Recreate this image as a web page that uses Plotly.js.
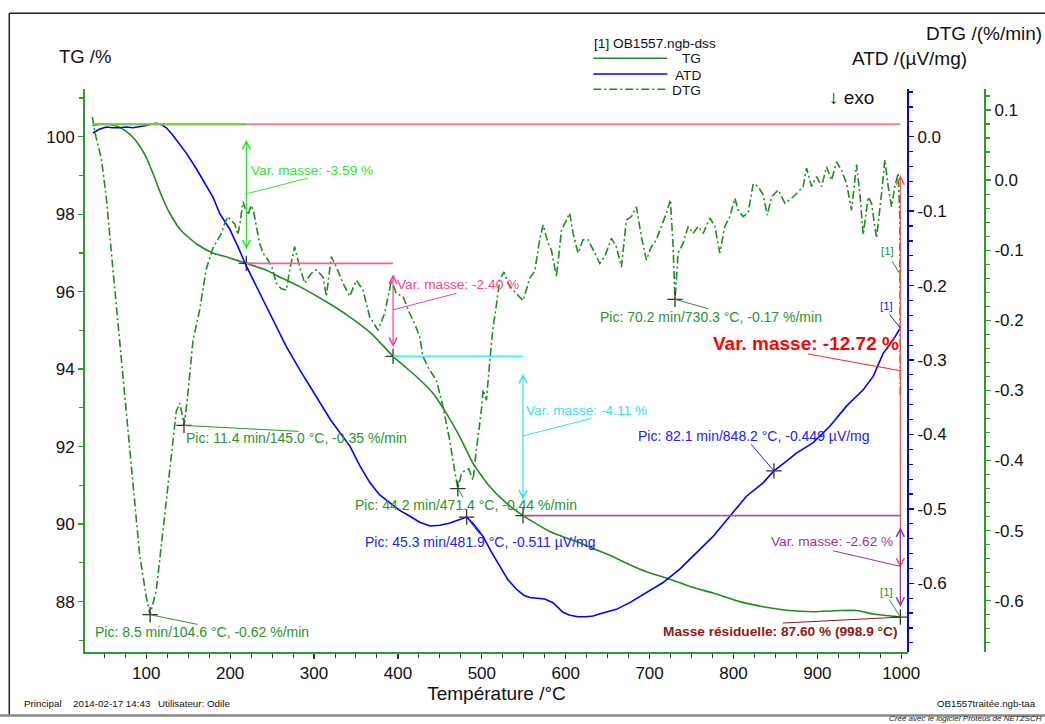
<!DOCTYPE html>
<html><head><meta charset="utf-8">
<script src="https://cdn.plot.ly/plotly-3.0.1.min.js"></script>
<style>html,body{margin:0;padding:0;background:#fff}#chart{width:1045px;height:724px}</style>
</head><body><div id="chart"></div>
<script>
// ---------------- DATA ----------------
const tgTemp = [36.1, 44, 51.6, 63.5, 75.4, 87.4, 99.3, 108.8, 118.4, 127.9, 141, 160.1, 179.2, 199.4, 219.3, 239.1, 251.1, 259, 282.9, 314.7, 342.5, 370.3, 394.2, 422, 441.8, 457.8, 473.7, 489.5, 509.4, 529.3, 549.1, 581, 618.7, 632.6, 656.5, 676.4, 696.3, 724, 747.9, 775.7, 807.5, 835.3, 867.1, 895, 926.7, 946.6, 966.5, 982.4, 998.9];
const tgMass = [100.28, 100.32, 100.33, 100.28, 100.15, 99.90, 99.50, 99.01, 98.47, 98.03, 97.59, 97.23, 97.00, 96.87, 96.73, 96.59, 96.47, 96.38, 96.13, 95.74, 95.35, 94.88, 94.33, 93.81, 93.38, 92.86, 92.26, 91.57, 90.97, 90.54, 90.22, 89.81, 89.50, 89.37, 89.16, 88.95, 88.77, 88.58, 88.39, 88.22, 88.00, 87.87, 87.77, 87.74, 87.77, 87.77, 87.68, 87.64, 87.60];

const atdTemp = [36.4, 44, 52.4, 60, 68.3, 76, 84.1, 92, 100.1, 106, 112, 118, 124, 131, 139.8, 147.8, 159.7, 171.7, 179.5, 187.5, 199.4, 209, 219.4, 235.2, 251.1, 267, 282.9, 300, 320, 342.9, 355, 366.7, 378, 390.6, 402, 414.4, 426, 438.3, 450, 462.1, 472, 481.9, 490, 501.5, 511, 521.4, 531, 541.3, 550, 557.2, 566, 575, 584.9, 591, 596.8, 605, 614.7, 624, 632.6, 641, 650, 660.4, 676.4, 696.3, 716.1, 736, 755.9, 775.7, 795.6, 815.5, 835.3, 848.2, 862, 875.1, 895, 914.8, 934.7, 954.6, 966.5, 978.4, 990.3, 998.9];
const atdSignal = [0.005, 0.010, 0.013, 0.012, 0.012, 0.013, 0.012, 0.013, 0.015, 0.017, 0.018, 0.016, 0.012, 0.003, -0.010, -0.022, -0.043, -0.067, -0.081, -0.103, -0.124, -0.147, -0.174, -0.210, -0.246, -0.282, -0.313, -0.345, -0.381, -0.416, -0.443, -0.465, -0.481, -0.492, -0.502, -0.510, -0.518, -0.523, -0.522, -0.519, -0.515, -0.511, -0.520, -0.537, -0.557, -0.577, -0.595, -0.608, -0.616, -0.619, -0.620, -0.621, -0.626, -0.633, -0.639, -0.643, -0.645, -0.645, -0.644, -0.641, -0.638, -0.635, -0.626, -0.613, -0.599, -0.581, -0.559, -0.537, -0.510, -0.483, -0.465, -0.449, -0.437, -0.425, -0.411, -0.389, -0.362, -0.340, -0.322, -0.291, -0.273, -0.257];

const dtgTemp = [35.7, 40.0, 46.5, 52.4, 60.3, 68.3, 76.3, 84.1, 92.1, 100.1, 104.6, 112.0, 119.9, 127.9, 135.8, 139.8, 142.5, 145.0, 148.5, 151.7, 155.7, 163.7, 171.5, 179.5, 185.0, 189.5, 193.5, 197.4, 201.5, 205.4, 209.3, 212.0, 215.3, 218.0, 221.0, 225.3, 228.0, 231.3, 235.0, 239.2, 245.1, 250.0, 255.1, 261.0, 267.0, 271.0, 276.9, 282.9, 288.9, 296.8, 302.8, 310.7, 314.7, 320.6, 326.6, 334.5, 342.5, 350.4, 358.4, 366.3, 376.3, 384.2, 392.2, 398.1, 406.1, 414.0, 420.0, 425.9, 429.9, 437.8, 445.8, 453.7, 461.7, 467.0, 471.4, 475.5, 479.6, 484.5, 489.5, 493.5, 499.5, 501.5, 505.5, 509.4, 513.4, 515.4, 521.4, 526.3, 533.3, 541.3, 549.2, 557.1, 563.1, 569.0, 573.0, 579.0, 583.0, 589.0, 595.0, 600.9, 604.8, 608.8, 614.7, 620.7, 626.6, 634.6, 640.6, 646.5, 654.5, 660.4, 666.4, 672.3, 678.3, 684.3, 690.2, 696.2, 702.1, 708.1, 714.1, 720.0, 724.8, 728.0, 730.3, 734.0, 740.0, 746.0, 751.9, 757.9, 763.9, 771.8, 777.8, 783.7, 789.7, 795.7, 801.6, 805.6, 811.6, 817.5, 823.5, 829.4, 835.4, 840.2, 845.4, 853.3, 861.3, 869.2, 877.1, 883.1, 887.1, 893.0, 899.0, 905.0, 910.9, 916.9, 922.8, 928.8, 934.8, 940.7, 946.7, 950.6, 954.6, 960.6, 964.5, 970.5, 976.5, 980.4, 984.4, 988.4, 992.3, 996.3, 998.3, 998.9];
const dtgRate = [0.090, 0.062, 0.031, -0.025, -0.127, -0.229, -0.330, -0.432, -0.534, -0.595, -0.620, -0.585, -0.500, -0.421, -0.330, -0.318, -0.332, -0.350, -0.318, -0.279, -0.229, -0.185, -0.127, -0.097, -0.085, -0.076, -0.062, -0.052, -0.058, -0.062, -0.078, -0.060, -0.031, -0.040, -0.050, -0.036, -0.045, -0.066, -0.090, -0.104, -0.114, -0.125, -0.147, -0.155, -0.157, -0.128, -0.095, -0.124, -0.147, -0.133, -0.128, -0.138, -0.166, -0.109, -0.124, -0.147, -0.166, -0.143, -0.157, -0.195, -0.214, -0.190, -0.143, -0.162, -0.166, -0.190, -0.205, -0.223, -0.252, -0.271, -0.285, -0.323, -0.371, -0.410, -0.440, -0.420, -0.414, -0.412, -0.428, -0.385, -0.328, -0.299, -0.314, -0.260, -0.209, -0.195, -0.143, -0.131, -0.152, -0.162, -0.172, -0.140, -0.130, -0.085, -0.064, -0.090, -0.100, -0.138, -0.071, -0.057, -0.047, -0.076, -0.104, -0.085, -0.085, -0.104, -0.119, -0.109, -0.083, -0.095, -0.124, -0.057, -0.052, -0.038, -0.081, -0.114, -0.095, -0.085, -0.066, -0.047, -0.028, -0.095, -0.170, -0.104, -0.090, -0.066, -0.076, -0.066, -0.076, -0.054, -0.066, -0.104, -0.066, -0.052, -0.026, -0.043, -0.052, -0.047, -0.005, -0.009, -0.021, -0.050, -0.024, -0.014, -0.033, -0.026, -0.017, -0.009, 0.017, -0.009, 0.005, -0.009, 0.019, 0.000, 0.026, 0.014, -0.005, -0.043, 0.022, -0.019, -0.078, -0.024, -0.033, -0.083, -0.019, 0.029, -0.009, -0.038, -0.009, 0.010, -0.052, -0.307];

// mass-change analysis (step boundaries and levels)
const stepTemp = [36.1, 219.3, 394.2, 549.1, 998.9];
const stepMass = [100.32, 96.73, 94.33, 90.22, 87.60];
const stepLabels = ['Var. masse: -3.59 %', 'Var. masse: -2.40 %', 'Var. masse: -4.11 %', 'Var. masse: -2.62 %'];
const totalLabel = 'Var. masse: -12.72 %';
const residueLabel = 'Masse résiduelle: 87.60 % (998.9 °C)';

// peaks
const dtgPeakTemp = [104.6, 145.0, 471.4, 730.3];
const dtgPeakRate = [-0.62, -0.35, -0.44, -0.17];
const dtgPeakLabels = ['Pic: 8.5 min/104.6 °C, -0.62 %/min', 'Pic: 11.4 min/145.0 °C, -0.35 %/min', 'Pic: 44.2 min/471.4 °C, -0.44 %/min', 'Pic: 70.2 min/730.3 °C, -0.17 %/min'];
const atdPeakTemp = [481.9, 848.2];
const atdPeakSignal = [-0.511, -0.449];
const atdPeakLabels = ['Pic: 45.3 min/481.9 °C, -0.511 µV/mg', 'Pic: 82.1 min/848.2 °C, -0.449 µV/mg'];
const dtgEndLabelValue = -0.135;

// ticks
const xTicks = [100, 200, 300, 400, 500, 600, 700, 800, 900, 1000];
const xTickText = ['100', '200', '300', '400', '500', '600', '700', '800', '900', '1000'];
const tgTicks = [88, 90, 92, 94, 96, 98, 100];
const tgTickText = ['88', '90', '92', '94', '96', '98', '100'];
const atdTicks = [0, -0.1, -0.2, -0.3, -0.4, -0.5, -0.6];
const atdTickText = ['0.0', '-0.1', '-0.2', '-0.3', '-0.4', '-0.5', '-0.6'];
const dtgTicks = [0.1, 0, -0.1, -0.2, -0.3, -0.4, -0.5, -0.6];
const dtgTickText = ['0.1', '0.0', '-0.1', '-0.2', '-0.3', '-0.4', '-0.5', '-0.6'];

// ---------------- STYLE / PLACEMENT ----------------
const FONT = 'Liberation Sans, Arial, Helvetica, sans-serif';
const GREEN = '#1f8c1f';
const AXGREEN = '#2e9a2e';
const TXTGREEN = '#289428';
const BLUE = '#0000ff';
const TXTBLUE = '#2020ff';
const PX = x => (x - 85) / 900;
const PY = y => (652 - y) / 563;

const stepColors = ['#2ee52e', '#ff3d8f', '#2fe3ee', '#993399'];
const stepLineColors = ['#74c947', '#ff5c9d', '#45f2f8', '#a35aa8'];
const stepPlacement = [
  {lead: [63, -16], sx: 2.6, sy: 23.3, anchor: 'left'},
  {lead: [65, -17], sx: 2, sy: 25, anchor: 'left'},
  {lead: [70, -18], sx: 1, sy: 25, anchor: 'left'},
  {lead: [-69, -16], sx: -5.5, sy: 24.7, anchor: 'right'}
];
const dtgPeakPlacement = [
  {lead: [49, 10], sx: -57, sy: -17},
  {lead: [116, 6], sx: 0, sy: -13},
  {lead: [6, 10], sx: -105, sy: -16.5},
  {lead: [35, 10], sx: -77, sy: -17.4}
];
const atdPeakPlacement = [
  {lead: [14, 18], sx: -104, sy: -25},
  {lead: [-24, -28], sx: -137.6, sy: 35.4}
];

// ---------------- TRACES ----------------
const crossMarker = {symbol: 'cross-thin', size: 11, line: {color: '#333', width: 1.3}, color: '#333'};
const traces = [
  {x: tgTemp, y: tgMass, type: 'scatter', mode: 'lines', yaxis: 'y', name: 'TG',
   line: {color: GREEN, width: 1.6, shape: 'spline', smoothing: 0.5}},
  {x: atdTemp, y: atdSignal, type: 'scatter', mode: 'lines', yaxis: 'y2', name: 'ATD',
   line: {color: BLUE, width: 1.6}},
  {x: dtgTemp, y: dtgRate, type: 'scatter', mode: 'lines', yaxis: 'y3', name: 'DTG',
   line: {color: GREEN, width: 1.6, dash: '8px,3px,2px,3px'}},
  {x: stepTemp.slice(1), y: stepMass.slice(1), type: 'scatter', mode: 'markers', yaxis: 'y', marker: crossMarker},
  {x: atdPeakTemp, y: atdPeakSignal, type: 'scatter', mode: 'markers', yaxis: 'y2', marker: crossMarker},
  {x: dtgPeakTemp, y: dtgPeakRate, type: 'scatter', mode: 'markers', yaxis: 'y3', marker: crossMarker}
];

// ---------------- SHAPES ----------------
const shapes = [];
const hline = (x0, x1, y, color, w) => shapes.push({type: 'line', xref: 'x', yref: 'y', x0: x0, x1: x1, y0: y, y1: y, line: {color: color, width: w}});
hline(stepTemp[0], stepTemp[4], stepMass[0], '#ff8080', 2);
hline(stepTemp[0], stepTemp[1], stepMass[0], stepLineColors[0], 2);
for (let i = 1; i < 4; i++) hline(stepTemp[i], stepTemp[i + 1], stepMass[i], stepLineColors[i], 1.6);

const pline = (x0, y0, x1, y1, color, w, dash) => shapes.push({type: 'line', xref: 'paper', yref: 'paper',
  x0: PX(x0), x1: PX(x1), y0: PY(y0), y1: PY(y1), line: {color: color, width: w, dash: dash || 'solid'}});
// frame
pline(9.3, 13.3, 1045, 13.3, '#222', 1.5);
pline(9.3, 13.3, 9.3, 715, '#222', 1.5);
pline(0, 715.5, 1045, 715.5, '#888', 2.5);
// legend samples
pline(593.3, 58.3, 667.3, 58.3, GREEN, 1.5);
pline(593.3, 74, 667.3, 74, BLUE, 1.5);
pline(593.3, 89.3, 667.3, 89.3, GREEN, 1.5, '8px,3px,2px,3px');

// ---------------- ANNOTATIONS ----------------
const ann = [];
const dblArrow = (x, yTop, yBot, color) => {
  const inset = 0.1 * (yTop - yBot);
  ann.push({x: x, y: yBot + inset, xref: 'x', yref: 'y', ax: x, ay: yTop - inset, axref: 'x', ayref: 'y',
    text: '', showarrow: true, arrowside: 'end+start', arrowhead: 5, startarrowhead: 5,
    arrowsize: 1.3, startarrowsize: 1.3, arrowwidth: 1.2, arrowcolor: color, standoff: 0, startstandoff: 0});
};
const leader = (x, y, yref, lead, color) => ann.push({x: x, y: y, xref: 'x', yref: yref, ax: lead[0], ay: lead[1],
  text: '', showarrow: true, arrowhead: 0, arrowwidth: 1, arrowcolor: color, standoff: 0, startstandoff: 0});
const label = (x, y, yref, text, color, sx, sy, anchor, size, bold) => ann.push({x: x, y: y, xref: 'x', yref: yref,
  text: bold ? '<b>' + text + '</b>' : text, showarrow: false, xanchor: anchor, yanchor: 'middle',
  xshift: sx, yshift: sy, font: {family: FONT, size: size, color: color}});

// total mass change
dblArrow(stepTemp[4], stepMass[0], stepMass[4], '#ff5050');
// individual steps
for (let i = 0; i < 4; i++) {
  dblArrow(stepTemp[i + 1], stepMass[i], stepMass[i + 1], stepColors[i]);
  const mid = (stepMass[i] + stepMass[i + 1]) / 2;
  const p = stepPlacement[i];
  leader(stepTemp[i + 1], mid, 'y', p.lead, stepColors[i]);
  label(stepTemp[i + 1], mid, 'y', stepLabels[i], stepColors[i], p.sx, p.sy, p.anchor, 13.7, false);
}
const totalMid = (stepMass[0] + stepMass[4]) / 2;
leader(stepTemp[4], totalMid, 'y', [-94, -17], '#ff2020');
label(stepTemp[4], totalMid, 'y', totalLabel, '#ff0000', 1, 27.4, 'right', 19, true);
leader(stepTemp[4], stepMass[4], 'y', [-119, 6], '#8c1a1a');
label(stepTemp[4], stepMass[4], 'y', residueLabel, '#8c1a1a', -1.5, -14.4, 'right', 13.7, true);

// peaks
for (let i = 0; i < dtgPeakTemp.length; i++) {
  const p = dtgPeakPlacement[i];
  leader(dtgPeakTemp[i], dtgPeakRate[i], 'y3', p.lead, TXTGREEN);
  label(dtgPeakTemp[i], dtgPeakRate[i], 'y3', dtgPeakLabels[i], TXTGREEN, p.sx, p.sy, 'left', 14, false);
}
for (let i = 0; i < atdPeakTemp.length; i++) {
  const p = atdPeakPlacement[i];
  leader(atdPeakTemp[i], atdPeakSignal[i], 'y2', p.lead, TXTBLUE);
  label(atdPeakTemp[i], atdPeakSignal[i], 'y2', atdPeakLabels[i], TXTBLUE, p.sx, p.sy, 'left', 14, false);
}

// curve tags [1]
const tEnd = stepTemp[4];
leader(tEnd, dtgEndLabelValue, 'y3', [-9, -15], TXTGREEN);
label(tEnd, dtgEndLabelValue, 'y3', '[1]', TXTGREEN, -12.6, 23.3, 'center', 11.5, false);
leader(tEnd, atdSignal[atdSignal.length - 1], 'y2', [-12, -15], TXTBLUE);
label(tEnd, atdSignal[atdSignal.length - 1], 'y2', '[1]', TXTBLUE, -14, 21.6, 'center', 11.5, false);
leader(tEnd, tgMass[tgMass.length - 1], 'y', [-12, -19], TXTGREEN);
label(tEnd, tgMass[tgMass.length - 1], 'y', '[1]', TXTGREEN, -14, 25.6, 'center', 11.5, false);

// paper texts
const ptext = (x, y, text, anchor, size, color, yanchor) => ann.push({xref: 'paper', yref: 'paper',
  x: PX(x), y: PY(y), text: text, showarrow: false, xanchor: anchor, yanchor: yanchor || 'middle',
  borderpad: 0, font: {family: FONT, size: size, color: color || '#111'}});
ptext(85, 56.7, 'TG /%', 'center', 18.5);
ptext(1043.3, 33.3, 'DTG /(%/min)', 'right', 19);
ptext(968.3, 58.3, 'ATD /(µV/mg)', 'right', 19);
ptext(851, 97.7, '↓ exo', 'center', 19);
ptext(593.3, 43.3, '[1] OB1557.ngb-dss', 'left', 13.7);
ptext(702, 59, 'TG', 'right', 13.7);
ptext(702, 75, 'ATD', 'right', 13.7);
ptext(702, 90.5, 'DTG', 'right', 13.7);
ptext(23.3, 703.3, 'Principal', 'left', 9.8);
ptext(71.7, 703.3, '2014-02-17 14:43', 'left', 9.8);
ptext(156.7, 703.3, 'Utilisateur: Odile', 'left', 9.8);
ptext(1037, 703.3, 'OB1557traitée.ngb-taa', 'right', 9.7);
ptext(1043, 724, '<i>Créé avec le logiciel Proteus de NETZSCH</i>', 'right', 8, '#222', 'bottom');

// ---------------- LAYOUT ----------------
const yCommon = {showgrid: false, zeroline: false, showline: true, linewidth: 2, ticks: 'outside', ticklen: 5,
  tickwidth: 1.3, tickfont: {family: FONT, size: 17, color: '#111'}, fixedrange: true};
const layout = {
  width: 1045, height: 724,
  margin: {l: 85, r: 60, t: 89, b: 72, pad: 0},
  paper_bgcolor: '#ffffff', plot_bgcolor: '#ffffff',
  showlegend: false, hovermode: false,
  font: {family: FONT, color: '#111'},
  xaxis: {domain: [0, 0.91444], range: [27, 1008], showgrid: false, zeroline: false, showline: true,
    linecolor: AXGREEN, linewidth: 2, ticks: 'outside', ticklen: 5, tickwidth: 1.2, tickcolor: '#333',
    tickmode: 'array', tickvals: xTicks, ticktext: xTickText, tickfont: {family: FONT, size: 17, color: '#111'},
    minor: {tickmode: 'linear', tick0: 0, dtick: 25, ticks: 'outside', ticklen: 4, tickwidth: 1, tickcolor: '#333'},
    title: {text: 'Température /°C', font: {family: FONT, size: 19, color: '#111'}, standoff: 0}, fixedrange: true},
  yaxis: Object.assign({}, yCommon, {range: [86.70, 101.23], side: 'left', linecolor: AXGREEN, tickcolor: AXGREEN,
    tickmode: 'array', tickvals: tgTicks, ticktext: tgTickText,
    minor: {tickmode: 'linear', tick0: 0, dtick: 1, ticks: 'outside', ticklen: 4, tickwidth: 1.2, tickcolor: AXGREEN}}),
  yaxis2: Object.assign({}, yCommon, {overlaying: 'y', side: 'right', anchor: 'free', position: 0.91444,
    range: [-0.6923, 0.0641], linecolor: BLUE, tickcolor: BLUE, tickmode: 'array', tickvals: atdTicks, ticktext: atdTickText,
    minor: {tickmode: 'linear', tick0: 0, dtick: 0.02, ticks: 'outside', ticklen: 4, tickwidth: 1.2, tickcolor: BLUE}}),
  yaxis3: Object.assign({}, yCommon, {overlaying: 'y', side: 'right', anchor: 'free', position: 1,
    range: [-0.6732, 0.13], linecolor: AXGREEN, tickcolor: AXGREEN, tickmode: 'array', tickvals: dtgTicks, ticktext: dtgTickText,
    minor: {tickmode: 'linear', tick0: 0, dtick: 0.02, ticks: 'outside', ticklen: 4, tickwidth: 1.2, tickcolor: AXGREEN}}),
  shapes: shapes,
  annotations: ann
};

Plotly.newPlot('chart', traces, layout, {staticPlot: true, displayModeBar: false});
</script>
</body></html>
